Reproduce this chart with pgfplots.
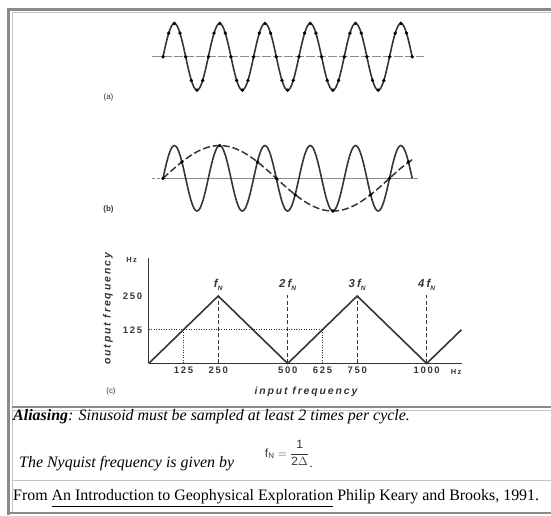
\documentclass[border=0pt]{standalone}
\usepackage{pgfplots}
\pgfplotsset{compat=1.18}
\usepackage{pgfplotstable}
\usepackage{fontspec}
\setmainfont{Liberation Serif}
\setsansfont{Liberation Sans}
\newfontfamily\lbl[LetterSpace=18]{Liberation Sans}
\definecolor{ink}{HTML}{353535}
\definecolor{lgray}{HTML}{8C8C8C}
\definecolor{frameD}{HTML}{8A8A8A}
\definecolor{frameL}{HTML}{C4C4C4}

\pgfplotstableread{
t y
0 0
0.0625 0.383
0.125 0.707
0.1875 0.924
0.25 1
0.3125 0.924
0.375 0.707
0.4375 0.383
0.5 0
0.5625 -0.383
0.625 -0.707
0.6875 -0.924
0.75 -1
0.8125 -0.924
0.875 -0.707
0.9375 -0.383
1 0
1.0625 0.383
1.125 0.707
1.1875 0.924
1.25 1
1.3125 0.924
1.375 0.707
1.4375 0.383
1.5 0
1.5625 -0.383
1.625 -0.707
1.6875 -0.924
1.75 -1
1.8125 -0.924
1.875 -0.707
1.9375 -0.383
2 0
2.0625 0.383
2.125 0.707
2.1875 0.924
2.25 1
2.3125 0.924
2.375 0.707
2.4375 0.383
2.5 0
2.5625 -0.383
2.625 -0.707
2.6875 -0.924
2.75 -1
2.8125 -0.924
2.875 -0.707
2.9375 -0.383
3 0
3.0625 0.383
3.125 0.707
3.1875 0.924
3.25 1
3.3125 0.924
3.375 0.707
3.4375 0.383
3.5 0
3.5625 -0.383
3.625 -0.707
3.6875 -0.924
3.75 -1
3.8125 -0.924
3.875 -0.707
3.9375 -0.383
4 0
4.0625 0.383
4.125 0.707
4.1875 0.924
4.25 1
4.3125 0.924
4.375 0.707
4.4375 0.383
4.5 0
4.5625 -0.383
4.625 -0.707
4.6875 -0.924
4.75 -1
4.8125 -0.924
4.875 -0.707
4.9375 -0.383
5 0
5.0625 0.383
5.125 0.707
5.1875 0.924
5.25 1
5.3125 0.924
5.375 0.707
5.4375 0.383
5.5 0
}\fastsine

\pgfplotstableread{
t y
0 0
0.125 0.707
0.25 1
0.375 0.707
0.5 0
0.625 -0.707
0.75 -1
0.875 -0.707
1 0
1.125 0.707
1.25 1
1.375 0.707
1.5 0
1.625 -0.707
1.75 -1
1.875 -0.707
2 0
2.125 0.707
2.25 1
2.375 0.707
2.5 0
2.625 -0.707
2.75 -1
2.875 -0.707
3 0
3.125 0.707
3.25 1
3.375 0.707
3.5 0
3.625 -0.707
3.75 -1
3.875 -0.707
4 0
4.125 0.707
4.25 1
4.375 0.707
4.5 0
4.625 -0.707
4.75 -1
4.875 -0.707
5 0
5.125 0.707
5.25 1
5.375 0.707
5.5 0
}\samplesA

\pgfplotstableread{
t y
0 0
0.25 0.309
0.5 0.588
0.75 0.809
1 0.951
1.25 1
1.5 0.951
1.75 0.809
2 0.588
2.25 0.309
2.5 0
2.75 -0.309
3 -0.588
3.25 -0.809
3.5 -0.951
3.75 -1
4 -0.951
4.25 -0.809
4.5 -0.588
4.75 -0.309
5 0
5.25 0.309
5.55 0.62
}\slowsine

\pgfplotstableread{
t y
0 0
0.4167 0.5
1.25 1
2.0833 0.5
2.5 0
2.9167 -0.5
3.75 -1
4.5833 -0.5
5 0
5.4167 0.5
}\samplesB

\newcommand{\fN}[1]{{\lbl\bfseries\itshape\fontsize{11.5}{12}\selectfont #1f\raisebox{-0.45ex}{\fontsize{6.5}{6.5}\selectfont N}}}

\begin{document}
\begin{tikzpicture}[x=1bp,y=1bp]
\path[use as bounding box] (0,0) rectangle (551,516);
% frame
\fill[frameD] (6.5,508) rectangle (551,505);
\draw[frameL, line width=1bp] (12,503) -- (551,503);
\fill[frameD] (6.5,508) rectangle (10,1);
\draw[frameL, line width=1bp] (12,503) -- (12,3);
\draw[frameD, line width=1.3bp] (12,109) -- (551,109);
\draw[frameL, line width=1bp] (12,105) -- (551,105);
\draw[frameL, line width=1bp] (12,35) -- (551,35);
\draw[frameD, line width=1.6bp] (7,3) -- (551,3);

% panel (a)
\begin{axis}[at={(151.7bp,425.8bp)}, anchor=south west, scale only axis,
  width=271.8bp, height=66.8bp, xmin=-0.25, xmax=5.75, ymin=-1, ymax=1,
  hide axis, clip=false]
\addplot[lgray, line width=1bp, dash pattern=on 9bp off 2bp] coordinates {(-0.25,0) (5.75,0)};
\addplot[ink, line width=1.6bp, smooth] table {\fastsine};
\addplot[only marks, mark=*, mark size=1.5bp, black] table {\samplesA};
\end{axis}

% panel (b)
\begin{axis}[at={(151.7bp,304.9bp)}, anchor=south west, scale only axis,
  width=271.8bp, height=65.6bp, xmin=-0.25, xmax=5.75, ymin=-1, ymax=1,
  hide axis, clip=false]
\addplot[lgray, line width=1bp, dash pattern=on 3bp off 2bp] coordinates {(-0.25,0) (0,0)};
\addplot[lgray, line width=1bp] coordinates {(0,0) (5.63,0)};
\addplot[ink, line width=1.6bp, smooth] table {\fastsine};
\addplot[ink, line width=1.5bp, smooth, dash pattern=on 7bp off 3bp] table {\slowsine};
\addplot[only marks, mark=*, mark size=1.5bp, black] table {\samplesB};
\end{axis}

% panel (c)
\begin{axis}[at={(148.7bp,152.5bp)}, anchor=south west, scale only axis,
  width=313bp, height=105.3bp, xmin=0, xmax=1126, ymin=0, ymax=390,
  axis x line=bottom, axis y line=left,
  axis line style={ink, line width=1.2bp, -},
  xtick={125,250,500,625,750,1000}, xticklabels={125,250,500,625,750,1000},
  ytick={125,250}, yticklabels={125,250},
  major tick length=0pt,
  tick label style={font=\lbl\bfseries\fontsize{9.5}{10}\selectfont, text=ink},
  yticklabel style={xshift=-3bp},
  clip=false]
\addplot[ink, line width=1.6bp] coordinates {(0,0) (250,250) (500,0) (750,250) (1000,0) (1125,125)};
\addplot[ink, line width=1.1bp, dash pattern=on 4bp off 2.5bp] coordinates {(250,0) (250,250)};
\addplot[ink, line width=1.1bp, dash pattern=on 4bp off 2.5bp] coordinates {(500,0) (500,255)};
\addplot[ink, line width=1.1bp, dash pattern=on 4bp off 2.5bp] coordinates {(750,0) (750,250)};
\addplot[ink, line width=1.1bp, dash pattern=on 4bp off 2.5bp] coordinates {(1000,0) (1000,255)};
\addplot[ink, line width=0.8bp, dash pattern=on 1bp off 1.5bp] coordinates {(0,125) (625,125)};
\addplot[ink, line width=0.8bp, dash pattern=on 1bp off 1.5bp] coordinates {(125,0) (125,125)};
\addplot[ink, line width=0.8bp, dash pattern=on 1bp off 1.5bp] coordinates {(625,0) (625,125)};
\node[text=ink] at (axis cs:250,292) {\fN{}};
\node[text=ink] at (axis cs:500,292) {\fN{2}};
\node[text=ink] at (axis cs:750,292) {\fN{3}};
\node[text=ink] at (axis cs:1000,292) {\fN{4}};
\end{axis}

% panel labels
\node[text=ink, font=\lbl\bfseries\fontsize{7.5}{7.5}\selectfont] at (131.7,256) {Hz};
\node[text=ink, font=\lbl\bfseries\fontsize{7.5}{7.5}\selectfont] at (456,144.3) {Hz};
\node[text=ink, rotate=90, font=\lbl\bfseries\itshape\fontsize{10.5}{11}\selectfont] at (108,207) {output frequency};
\node[text=ink, font=\lbl\bfseries\itshape\fontsize{10.5}{11}\selectfont] at (306,124) {input frequency};
\node[text=ink, font=\sffamily\fontsize{8}{8}\selectfont] at (108.5,419) {(a)};
\node[text=ink, font=\sffamily\bfseries\fontsize{8}{8}\selectfont] at (108.5,307) {(b)};
\node[text=ink, font=\sffamily\fontsize{8}{8}\selectfont] at (111,125) {(c)};

% text rows
\node[anchor=base west, inner sep=0pt, font=\fontsize{16}{18}\selectfont] at (13,95)
  {\textbf{\textit{Aliasing}}\textit{: Sinusoid must be sampled at least 2 times per cycle.}};
\node[anchor=base west, inner sep=0pt, font=\fontsize{16}{18}\selectfont] at (19,48.5)
  {\textit{The Nyquist frequency is given by}};
\node[text=ink, anchor=center, inner sep=0pt, font=\fontsize{12}{13}\selectfont] at (287,63)
  {$\mathsf{f}_{\mathsf{N}} = \displaystyle\frac{\mathsf{1}}{\mathsf{2}\Delta}$};
\node[anchor=base, inner sep=0pt, font=\fontsize{12}{12}\selectfont] at (311,48.5) {.};
\node[anchor=base west, inner sep=0pt, font=\fontsize{16}{18}\selectfont] at (13,15)
  {From \underline{An Introduction to Geophysical Exploration} Philip Keary and Brooks, 1991.};
\end{tikzpicture}
\end{document}
